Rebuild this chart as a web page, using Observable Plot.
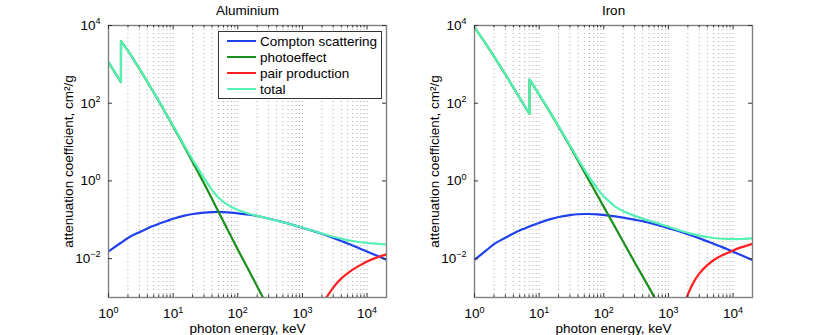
<!DOCTYPE html>
<html><head><meta charset="utf-8">
<script src="https://cdn.jsdelivr.net/npm/d3@7"></script>
<script src="https://cdn.jsdelivr.net/npm/@observablehq/plot@0.6"></script>
<style>
html,body{margin:0;padding:0;background:#fff;}
#chart{position:relative;width:830px;height:335px;font-family:"Liberation Sans",Arial,sans-serif;color:#000;}
#chart svg{position:absolute;top:0;}
.legend{position:absolute;left:218px;top:31px;width:164px;height:68px;border:1px solid #333;background:#fff;box-sizing:border-box;font-size:13.5px;}
.row{position:absolute;left:8px;height:16px;display:flex;align-items:center;white-space:nowrap;}
.sw{width:29px;height:2px;margin-right:4px;}
</style></head><body><div id="chart"></div>
<script>
// ---------- data (energies in keV, mass attenuation in cm^2/g) ----------
const alTotalE  = [1, 1.5596, 1.5596, 2, 3, 4, 5, 6, 8, 10, 15, 20, 30, 40, 50, 60, 80, 100, 150, 200, 300, 400, 500, 600, 800, 1000, 1500, 2000, 3000, 4000, 5000, 6000, 8000, 10000, 15000, 20000];
const alTotal   = [1150, 355, 3960, 2263, 788, 360, 193, 115, 50.3, 26.3, 8.0, 3.5, 1.2, 0.58, 0.375, 0.285, 0.212, 0.178, 0.143, 0.126, 0.107, 0.095, 0.0865, 0.080, 0.070, 0.0635, 0.0515, 0.0443, 0.0365, 0.0324, 0.0300, 0.0284, 0.0264, 0.0253, 0.0239, 0.0231];
const alComptonE = [1, 1.5, 2, 3, 4, 5, 6, 8, 10, 15, 20, 30, 40, 50, 60, 80, 100, 150, 200, 300, 400, 500, 600, 800, 1000, 1500, 2000, 3000, 4000, 5000, 6000, 8000, 10000, 15000, 20000];
const alCompton  = [0.0153, 0.0245, 0.034, 0.048, 0.060, 0.070, 0.079, 0.093, 0.106, 0.128, 0.141, 0.153, 0.158, 0.159, 0.158, 0.153, 0.147, 0.135, 0.125, 0.108, 0.096, 0.087, 0.080, 0.0695, 0.0625, 0.051, 0.0435, 0.0342, 0.0285, 0.0246, 0.0218, 0.0178, 0.0152, 0.0115, 0.0094];
const alPhotoE  = [1, 1.5596, 1.5596, 2, 3, 4, 5, 6, 8, 10, 15, 20, 30, 40, 50, 60, 80, 100, 150, 200, 300];
const alPhoto   = [1140, 350, 3940, 2250, 780, 355, 190, 113, 49.3, 25.4, 7.5, 3.08, 0.87, 0.345, 0.163, 0.090, 0.0355, 0.0172, 0.0048, 0.00193, 0.00052];
const alPairE   = [1500, 2000, 2500, 3000, 4000, 5000, 6000, 8000, 10000, 15000, 20000];
const alPair    = [0.00022, 0.00066, 0.00117, 0.00180, 0.0031, 0.0042, 0.0052, 0.0069, 0.0084, 0.0111, 0.0129];

const feTotalE  = [1, 1.5, 2, 3, 4, 5, 6, 7.112, 7.112, 8, 10, 15, 20, 30, 40, 50, 60, 80, 100, 150, 200, 300, 400, 500, 600, 800, 1000, 1500, 2000, 3000, 4000, 5000, 6000, 8000, 10000, 15000, 20000];
const feTotal   = [9000, 3390, 1620, 556, 256, 139.5, 84, 54, 410, 306, 170.6, 57.1, 25.7, 8.2, 3.65, 1.98, 1.23, 0.62, 0.395, 0.218, 0.165, 0.126, 0.107, 0.095, 0.087, 0.0745, 0.0660, 0.0530, 0.0462, 0.0392, 0.0357, 0.0340, 0.0330, 0.0320, 0.0318, 0.0322, 0.0332];
const feComptonE = [1, 1.5, 2, 3, 4, 5, 6, 8, 10, 15, 20, 30, 40, 50, 60, 80, 100, 150, 200, 300, 400, 500, 600, 800, 1000, 1500, 2000, 3000, 4000, 5000, 6000, 8000, 10000, 15000, 20000];
const feCompton  = [0.0093, 0.0160, 0.0235, 0.0345, 0.0445, 0.053, 0.060, 0.073, 0.083, 0.104, 0.118, 0.132, 0.139, 0.141, 0.141, 0.138, 0.133, 0.123, 0.114, 0.101, 0.092, 0.084, 0.078, 0.068, 0.061, 0.050, 0.0425, 0.0333, 0.0278, 0.0242, 0.0214, 0.0177, 0.0151, 0.0113, 0.0092];
const fePhotoE  = [1, 1.5, 2, 3, 4, 5, 6, 7.112, 7.112, 8, 10, 15, 20, 30, 40, 50, 60, 80, 100, 150, 200, 300, 400, 500, 600, 800];
const fePhoto   = [8990, 3380, 1610, 550, 253, 137, 82.3, 53.3, 407, 302, 167.5, 55.6, 24.9, 7.8, 3.3, 1.7, 0.98, 0.42, 0.215, 0.064, 0.0272, 0.0081, 0.0035, 0.00182, 0.00105, 0.00044];
const fePairE   = [1500, 2000, 2500, 3000, 4000, 5000, 6000, 8000, 10000, 15000, 20000];
const fePair    = [0.0003, 0.0012, 0.0026, 0.0041, 0.0068, 0.0091, 0.0110, 0.0138, 0.0163, 0.0207, 0.0240];

const seriesNames  = ["Compton scattering", "photoeffect", "pair production", "total"];
const seriesColors = ["#2040ee", "#1a8f1a", "#ff2020", "#55f0b4"];
const panelTitles  = ["Aluminium", "Iron"];
const xLabel = "photon energy, keV";
const yLabel = "attenuation coefficient, cm²/g";
const xMajor = [1, 10, 100, 1000, 10000];
const xMinor = [2,3,4,5,6,7,8,9, 20,30,40,50,60,70,80,90, 200,300,400,500,600,700,800,900, 2000,3000,4000,5000,6000,7000,8000,9000];
const xGrid  = [2,3,4,5,6,7,8,9,10, 20,30,40,50,60,70,80,90,100, 200,300,400,500,600,700,800,900,1000, 2000,3000,4000,5000,6000,7000,8000,9000,10000];
const yMajor = [1e-2, 1, 1e2, 1e4];

// ---------- drawing ----------
const pts = (E, V) => E.map((e, i) => ({e, v: V[i]}));
const expFmt = d => { const k = Math.round(Math.log10(d)); return "10^" + (k < 0 ? "\u2212" + (-k) : String(k)); };
const FH = 272, FW = 278, FS = 13.5;

function panel(title, sets, mL, mR) {
  const lineOpts = (c, curve) => ({x: "e", y: "v", stroke: c, strokeWidth: 2.2, curve, clip: true});
  const svg = Plot.plot({
    width: 415, height: 335, marginTop: 25, marginBottom: 38, marginLeft: mL, marginRight: mR,
    style: {background: "transparent", fontFamily: "'Liberation Sans', Arial, sans-serif", fontSize: "13.5px", color: "#000"},
    x: {type: "log", domain: [1, 20000], axis: null},
    y: {type: "log", domain: [1e-3, 1e4], axis: null},
    marks: [
      Plot.ruleX(xGrid, {x: d => d, stroke: "#aaaaaa", strokeDasharray: "1,3"}),
      Plot.line(pts(sets.cE, sets.c), lineOpts(seriesColors[0], "monotone-x")),
      Plot.line(pts(sets.pE, sets.p), lineOpts(seriesColors[1], "linear")),
      Plot.line(pts(sets.rE, sets.r), lineOpts(seriesColors[2], "monotone-x")),
      Plot.line(pts(sets.tE, sets.t), lineOpts(seriesColors[3], "linear")),
      Plot.frame({stroke: "#808080", strokeWidth: 1.4}),
      Plot.ruleX(xMajor, {x: d => d, insetTop: FH - 4, stroke: "#333"}),
      Plot.ruleX(xMajor, {x: d => d, insetBottom: FH - 4, stroke: "#333"}),
      Plot.ruleX(xMinor, {x: d => d, insetTop: FH - 2.5, stroke: "#333"}),
      Plot.ruleX(xMinor, {x: d => d, insetBottom: FH - 2.5, stroke: "#333"}),
      Plot.ruleY(yMajor, {y: d => d, insetRight: FW - 4, stroke: "#333"}),
      Plot.ruleY(yMajor, {y: d => d, insetLeft: FW - 4, stroke: "#333"}),
      Plot.axisX(xMajor, {anchor: "bottom", tickSize: 0, tickPadding: 11, tickFormat: expFmt, label: null, fontSize: FS}),
      Plot.axisY(yMajor, {anchor: "left", tickSize: 0, tickPadding: 8, tickFormat: expFmt, label: null, fontSize: FS}),
      Plot.text([title], {text: d => d, frameAnchor: "top", dy: -15, textAnchor: "middle", lineAnchor: "middle", fontSize: FS}),
      Plot.text([xLabel], {text: d => d, frameAnchor: "bottom", dy: 31, textAnchor: "middle", lineAnchor: "middle", fontSize: FS}),
      Plot.text([yLabel], {text: d => d, frameAnchor: "left", dx: -40, rotate: -90, textAnchor: "middle", lineAnchor: "middle", fontSize: FS})
    ]
  });
  const NS = "http://www.w3.org/2000/svg";
  svg.querySelectorAll("text").forEach(t => {
    const m = /^10\^(.+)$/.exec(t.textContent);
    if (!m) return;
    while (t.firstChild) t.removeChild(t.firstChild);
    const a = document.createElementNS(NS, "tspan"); a.textContent = "10";
    const b = document.createElementNS(NS, "tspan"); b.textContent = m[1];
    b.setAttribute("dy", "-5.5"); b.setAttribute("font-size", "9");
    t.append(a, b);
  });
  return svg;
}

const chart = document.getElementById("chart");
const left = panel(panelTitles[0], {cE: alComptonE, c: alCompton, pE: alPhotoE, p: alPhoto, rE: alPairE, r: alPair, tE: alTotalE, t: alTotal}, 108, 29);
left.style.left = "0px";
const right = panel(panelTitles[1], {cE: feComptonE, c: feCompton, pE: fePhotoE, p: fePhoto, rE: fePairE, r: fePair, tE: feTotalE, t: feTotal}, 59, 78);
right.style.left = "415px";
chart.append(left, right);

const lg = document.createElement("div");
lg.className = "legend";
seriesNames.forEach((n, i) => {
  const row = document.createElement("div");
  row.className = "row";
  row.style.top = (1 + 16 * i) + "px";
  const sw = document.createElement("span");
  sw.className = "sw"; sw.style.background = seriesColors[i];
  const tx = document.createElement("span"); tx.textContent = n;
  row.append(sw, tx);
  lg.append(row);
});
chart.append(lg);
</script></body></html>
